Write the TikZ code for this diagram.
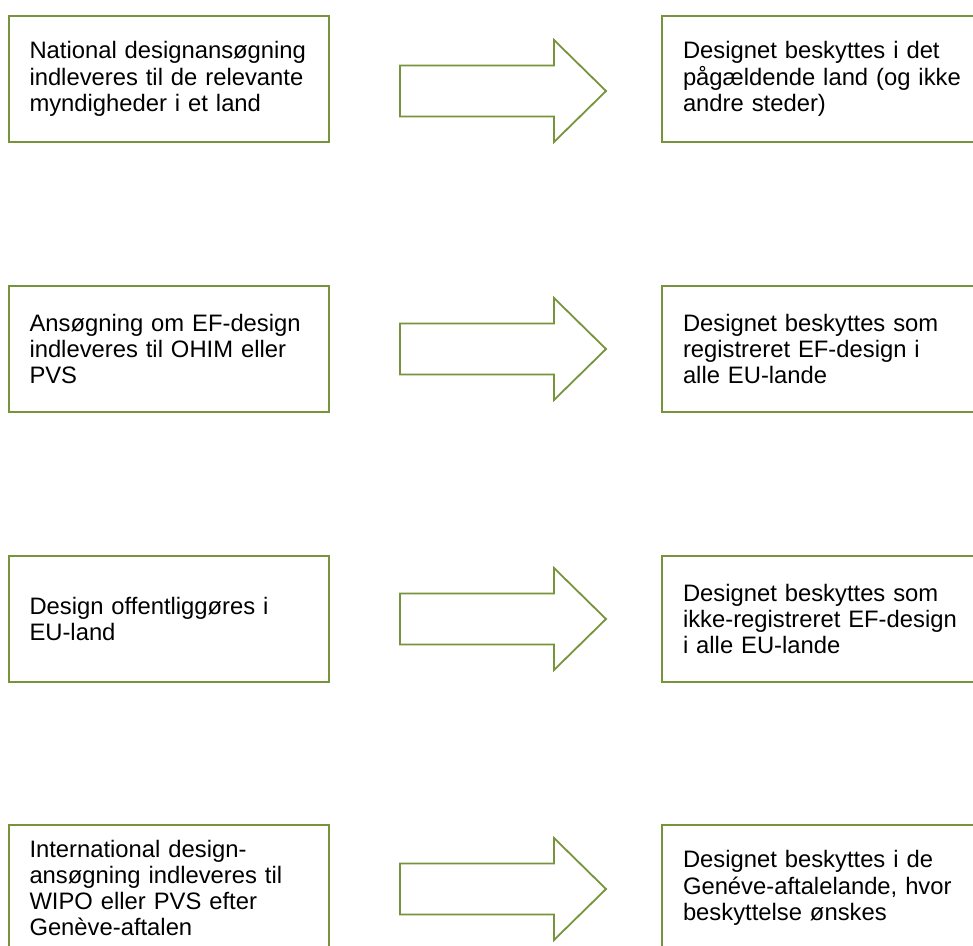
\documentclass[tikz,border=0pt]{standalone}
\usepackage{fontspec}
\setmainfont{Liberation Sans}
\definecolor{olivegreen}{RGB}{119,147,60}
\begin{document}
\begin{tikzpicture}[x=1pt,y=-1pt,
  box/.style={draw=olivegreen, line width=2pt, outer sep=0pt,
    minimum width=320.5pt, minimum height=126pt,
    text width=278.5pt, inner xsep=21pt, inner ysep=0pt,
    align=left, anchor=north west,
    font=\fontsize{23.8}{26.3}\selectfont},
  blockarrow/.style={draw=olivegreen, line width=1.8pt, line join=miter}]
\useasboundingbox (0,0) rectangle (973,945);
\clip (0,0) rectangle (973,945);
% left boxes
\node[box] (l1) at (8.5,16) {National designansøgning\\indleveres til de relevante\\myndigheder i et land};
\node[box] (l2) at (8.5,286) {Ansøgning om EF-design\\indleveres til OHIM eller\\PVS};
\node[box] (l3) at (8.5,556) {Design offentliggøres i\\EU-land};
\node[box] (l4) at (8.5,825) {International design-\\ansøgning indleveres til\\WIPO eller PVS efter\\Genève-aftalen};
% right boxes
\node[box] (r1) at (662,16) {Designet beskyttes i det\\pågældende land (og ikke\\andre steder)};
\node[box] (r2) at (662,286) {Designet beskyttes som\\registreret EF-design i\\alle EU-lande};
\node[box] (r3) at (662,556) {Designet beskyttes som\\ikke-registreret EF-design\\i alle EU-lande};
\node[box] (r4) at (662,825) {Designet beskyttes i de\\Genéve-aftalelande, hvor\\beskyttelse ønskes};
% block arrows
\foreach \cy in {91,349,619,889}{
  \draw[blockarrow, shift={(0,\cy)}] (400,-25.5) -- (554,-25.5) -- (554,-51)
    -- (606,0) -- (554,51) -- (554,25.5) -- (400,25.5) -- cycle;
}
\end{tikzpicture}
\end{document}
